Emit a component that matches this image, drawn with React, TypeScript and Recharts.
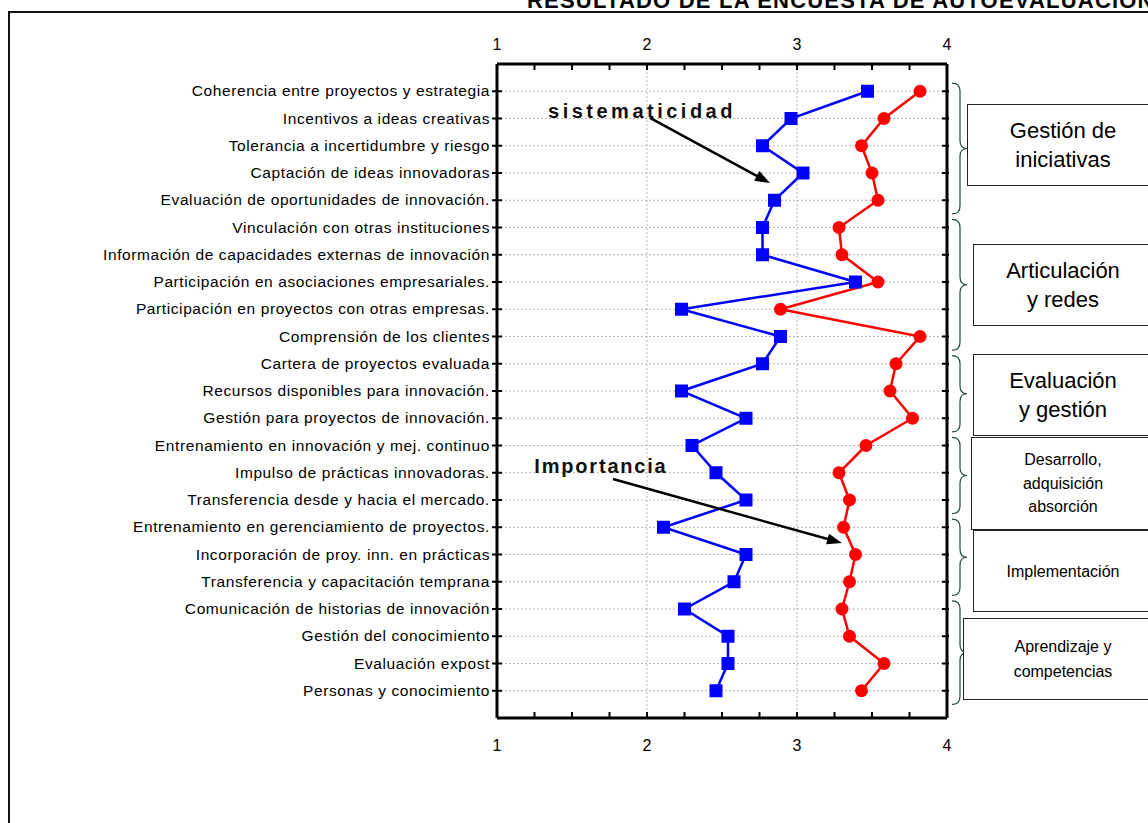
import React from 'react';
import { LineChart, Line, XAxis, YAxis, CartesianGrid, ReferenceLine } from 'recharts';

// Factores evaluados, de arriba hacia abajo
const factores = [
  'Coherencia entre proyectos y estrategia',
  'Incentivos a ideas creativas',
  'Tolerancia a incertidumbre y riesgo',
  'Captación de ideas innovadoras',
  'Evaluación de oportunidades de innovación.',
  'Vinculación con otras instituciones',
  'Información de capacidades externas de innovación',
  'Participación en asociaciones empresariales.',
  'Participación en proyectos con otras empresas.',
  'Comprensión de los clientes',
  'Cartera de proyectos evaluada',
  'Recursos disponibles para innovación.',
  'Gestión para proyectos de innovación.',
  'Entrenamiento en innovación y mej. continuo',
  'Impulso de prácticas innovadoras.',
  'Transferencia desde y hacia el mercado.',
  'Entrenamiento en gerenciamiento de proyectos.',
  'Incorporación de proy. inn. en prácticas',
  'Transferencia y capacitación temprana',
  'Comunicación de historias de innovación',
  'Gestión del conocimiento',
  'Evaluación expost',
  'Personas y conocimiento',
];

const sistematicidad = [
  3.47, 2.96, 2.77, 3.04, 2.85, 2.77, 2.77, 3.39, 2.23, 2.89, 2.77, 2.23,
  2.66, 2.3, 2.46, 2.66, 2.11, 2.66, 2.58, 2.25, 2.54, 2.54, 2.46,
];

const importancia = [
  3.82, 3.58, 3.43, 3.5, 3.54, 3.28, 3.3, 3.54, 2.89, 3.82, 3.66, 3.62,
  3.77, 3.46, 3.28, 3.35, 3.31, 3.39, 3.35, 3.3, 3.35, 3.58, 3.43,
];

const marcasX = [1, 1.25, 1.5, 1.75, 2, 2.25, 2.5, 2.75, 3, 3.25, 3.5, 3.75, 4];
const marcasY = factores.map((_, i) => i + 1);

// Grupos de factores (primer y último factor, 1-based)
const grupos = [
  { lineas: ['Gestión de', 'iniciativas'], desde: 1, hasta: 5 },
  { lineas: ['Articulación', 'y redes'], desde: 6, hasta: 10 },
  { lineas: ['Evaluación', 'y gestión'], desde: 11, hasta: 13 },
  { lineas: ['Desarrollo,', 'adquisición', 'absorción'], desde: 14, hasta: 16 },
  { lineas: ['Implementación'], desde: 17, hasta: 19 },
  { lineas: ['Aprendizaje y', 'competencias'], desde: 20, hasta: 23 },
];

// Cajas de texto de cada grupo
const cajas = [
  { left: 967, top: 104, height: 82, fontSize: 22, lineHeight: 29 },
  { left: 973, top: 244, height: 82, fontSize: 22, lineHeight: 29 },
  { left: 973, top: 354, height: 82, fontSize: 22, lineHeight: 29 },
  { left: 971, top: 437, height: 93, fontSize: 16, lineHeight: 23.5 },
  { left: 973, top: 530, height: 82, fontSize: 16, lineHeight: 23 },
  { left: 963, top: 618, height: 82, fontSize: 16, lineHeight: 25 },
];

const data = factores.map((factor, i) => ({
  pos: i + 1,
  factor,
  sis: sistematicidad[i],
  imp: importancia[i],
}));

const FONT = 'Arial, "Liberation Sans", sans-serif';
const TOP = 64;
const BOTTOM = 718;
const yDe = (i: number) => TOP + (i * (BOTTOM - TOP)) / 24;

const TickArriba = ({ x, y, payload }: any) => (
  <g>
    <line x1={x} x2={x} y1={y} y2={y + 6} stroke="#000" strokeWidth={2} />
    {Number.isInteger(payload.value) && (
      <text x={x} y={y - 14} textAnchor="middle" fontSize={16} fontFamily={FONT} fill="#000">
        {payload.value}
      </text>
    )}
  </g>
);

const TickAbajo = ({ x, y, payload }: any) => (
  <g>
    <line x1={x} x2={x} y1={y} y2={y - 6} stroke="#000" strokeWidth={2} />
    {Number.isInteger(payload.value) && (
      <text x={x} y={y + 33} textAnchor="middle" fontSize={16} fontFamily={FONT} fill="#000">
        {payload.value}
      </text>
    )}
  </g>
);

const TickIzq = ({ x, y, payload }: any) => (
  <g>
    <line x1={x - 5} x2={x + 5} y1={y} y2={y} stroke="#000" strokeWidth={2} />
    <text x={x - 7} y={y + 5} textAnchor="end" fontSize={15.5} fontFamily={FONT} fill="#000" letterSpacing={0.6}>
      {factores[payload.value - 1]}
    </text>
  </g>
);

const TickDer = ({ x, y }: any) => (
  <line x1={x - 5} x2={x + 2} y1={y} y2={y} stroke="#000" strokeWidth={2} />
);

const Cuadrado = ({ cx, cy, index }: any) => (
  <rect key={`sq-${index}`} x={cx - 6.5} y={cy - 6.5} width={13} height={13} fill="#0000ff" />
);

// Flecha con su rótulo en negrita
const flecha = (texto: string, dx: number, dy: number, espaciado: number) => (props: any) => {
  const { x1, y1, x2, y2 } = props;
  const len = Math.hypot(x2 - x1, y2 - y1);
  const ux = (x2 - x1) / len;
  const uy = (y2 - y1) / len;
  const L = 15;
  const W = 5.5;
  const bx = x2 - ux * L;
  const by = y2 - uy * L;
  const punta = `${x2},${y2} ${bx - uy * W},${by + ux * W} ${bx + uy * W},${by - ux * W}`;
  return (
    <g>
      <line x1={x1} y1={y1} x2={bx + ux * 2} y2={by + uy * 2} stroke="#000" strokeWidth={2.5} />
      <polygon points={punta} fill="#000" />
      <text
        x={x1 + dx}
        y={y1 + dy}
        textAnchor="middle"
        fontSize={20}
        fontWeight="bold"
        fontFamily={FONT}
        letterSpacing={espaciado}
        fill="#111"
      >
        {texto}
      </text>
    </g>
  );
};

const llave = (desde: number, hasta: number) => {
  const yT = yDe(desde - 0.3);
  const yB = yDe(hasta + 0.5);
  const yM = (yT + yB) / 2;
  const a = 952;
  const s = 960;
  const t = 967;
  return `M ${a} ${yT} C ${s - 2} ${yT} ${s} ${yT + 3} ${s} ${yT + 8} L ${s} ${yM - 8} C ${s} ${yM - 3} ${s + 2} ${yM} ${t} ${yM} C ${s + 2} ${yM} ${s} ${yM + 3} ${s} ${yM + 8} L ${s} ${yB - 8} C ${s} ${yB - 3} ${s - 2} ${yB} ${a} ${yB}`;
};

export default function App() {
  return (
    <div
      style={{
        position: 'absolute',
        left: 0,
        top: 0,
        width: 1148,
        height: 823,
        overflow: 'hidden',
        background: '#fff',
        fontFamily: FONT,
      }}
    >
      {/* marco exterior */}
      <div
        style={{
          position: 'absolute',
          left: 8,
          top: 11,
          width: 1300,
          height: 1000,
          borderTop: '2px solid #111',
          borderLeft: '2px solid #111',
        }}
      />
      <svg style={{ position: 'absolute', left: 0, top: 0 }} width={1148} height={20}>
        <text x={527} y={8} fontSize={22} fontWeight="bold" fontFamily={FONT} letterSpacing={1.2} fill="#000">
          RESULTADO DE LA ENCUESTA DE AUTOEVALUACIÓN
        </text>
      </svg>

      <div style={{ position: 'absolute', left: 0, top: 0 }}>
        <LineChart
          width={1148}
          height={823}
          data={data}
          layout="vertical"
          margin={{ top: 34, right: 191, bottom: 75, left: 17 }}
        >
          <CartesianGrid
            xAxisId="bottom"
            yAxisId="left"
            vertical={false}
            stroke="#b5b5b5"
            strokeDasharray="2 2"
          />
          <XAxis
            xAxisId="top"
            orientation="top"
            type="number"
            domain={[1, 4]}
            ticks={marcasX}
            interval={0}
            height={30}
            tickSize={0}
            tickMargin={0}
            tickLine={false}
            tick={<TickArriba />}
            axisLine={{ stroke: '#000', strokeWidth: 3 }}
          />
          <XAxis
            xAxisId="bottom"
            orientation="bottom"
            type="number"
            domain={[1, 4]}
            ticks={marcasX}
            interval={0}
            height={30}
            tickSize={0}
            tickMargin={0}
            tickLine={false}
            tick={<TickAbajo />}
            axisLine={{ stroke: '#000', strokeWidth: 3 }}
          />
          <YAxis
            yAxisId="left"
            orientation="left"
            type="number"
            dataKey="pos"
            domain={[0, 24]}
            ticks={marcasY}
            interval={0}
            width={480}
            tickSize={0}
            tickMargin={0}
            tickLine={false}
            tick={<TickIzq />}
            axisLine={{ stroke: '#000', strokeWidth: 3 }}
          />
          <YAxis
            yAxisId="right"
            orientation="right"
            type="number"
            dataKey="pos"
            domain={[0, 24]}
            ticks={marcasY}
            interval={0}
            width={10}
            tickSize={0}
            tickMargin={0}
            tickLine={false}
            tick={<TickDer />}
            axisLine={{ stroke: '#000', strokeWidth: 3 }}
          />
          <ReferenceLine xAxisId="bottom" yAxisId="left" x={2} stroke="#b5b5b5" strokeDasharray="2 2" />
          <ReferenceLine xAxisId="bottom" yAxisId="left" x={3} stroke="#b5b5b5" strokeDasharray="2 2" />
          {/* serie sin trazo para que el eje superior y el derecho tengan datos */}
          <Line
            xAxisId="top"
            yAxisId="right"
            dataKey="imp"
            stroke="none"
            dot={false}
            activeDot={false}
            isAnimationActive={false}
          />
          <Line
            xAxisId="bottom"
            yAxisId="left"
            dataKey="imp"
            stroke="#ff0000"
            strokeWidth={2.5}
            dot={{ r: 6.5, fill: '#ff0000', stroke: 'none' }}
            isAnimationActive={false}
          />
          <Line
            xAxisId="bottom"
            yAxisId="left"
            dataKey="sis"
            stroke="#0000ff"
            strokeWidth={2.5}
            dot={Cuadrado}
            isAnimationActive={false}
          />
          <ReferenceLine
            xAxisId="bottom"
            yAxisId="left"
            segment={[{ x: 2.02, y: 1.98 }, { x: 2.82, y: 4.37 }]}
            shape={flecha('sistematicidad', -8, 0, 3.5)}
          />
          <ReferenceLine
            xAxisId="bottom"
            yAxisId="left"
            segment={[{ x: 1.773, y: 15.23 }, { x: 3.3, y: 17.58 }]}
            shape={flecha('Importancia', -12, -6, 1.8)}
          />
        </LineChart>
      </div>

      {/* llaves de agrupación */}
      <svg style={{ position: 'absolute', left: 0, top: 0 }} width={1148} height={823}>
        {grupos.map((g, i) => (
          <path key={i} d={llave(g.desde, g.hasta)} fill="none" stroke="#1e4d3c" strokeWidth={1.2} />
        ))}
      </svg>

      {grupos.map((g, i) => {
        const c = cajas[i];
        return (
          <div
            key={i}
            style={{
              position: 'absolute',
              left: c.left,
              top: c.top,
              width: 2 * (1063 - c.left),
              height: c.height,
              boxSizing: 'border-box',
              border: '1px solid #222',
              background: '#fff',
              display: 'flex',
              flexDirection: 'column',
              justifyContent: 'center',
              alignItems: 'center',
              fontSize: c.fontSize,
              lineHeight: `${c.lineHeight}px`,
              color: '#000',
            }}
          >
            {g.lineas.map((l) => (
              <div key={l}>{l}</div>
            ))}
          </div>
        );
      })}
    </div>
  );
}
